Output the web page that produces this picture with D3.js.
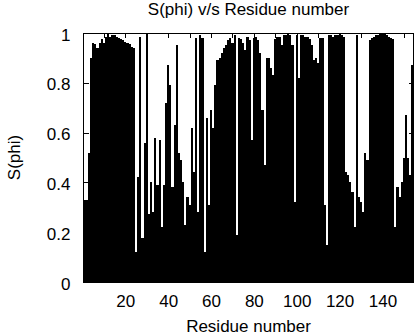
<!DOCTYPE html>
<html>
<head>
<meta charset="utf-8">
<script src="https://cdn.jsdelivr.net/npm/d3@7"></script>
<style>
  html, body { margin: 0; padding: 0; background: #fff; }
  svg { display: block; }
  text { font-family: "Liberation Sans", Arial, Helvetica, sans-serif; fill: #000; }
</style>
</head>
<body>
<svg id="chart" width="416" height="336"></svg>
<script>
// S(phi) order parameter for each residue
const sphi = [
  0.33, 0.33, 0.52, 0.90, 0.96, 0.955, 0.94, 0.96, 0.975, 0.96,
  0.985, 0.995, 0.985, 0.99, 0.99, 0.985, 0.98, 0.975, 0.97, 0.965,
  0.96, 0.955, 0.945, 0.94, 0.12, 0.42, 0.985, 0.175, 0.56, 0.995,
  0.275, 0.40, 0.28, 0.58, 0.39, 0.57, 0.22, 0.39, 0.72, 0.87,
  0.79, 0.38, 0.63, 0.95, 0.52, 0.49, 0.40, 0.23, 0.34, 0.31,
  0.62, 0.44, 0.98, 0.28, 0.99, 0.98, 0.12, 0.66, 0.31, 0.69,
  0.62, 0.79, 0.89, 0.90, 0.92, 0.94, 0.95, 0.97, 0.98, 0.96,
  0.99, 0.19, 0.98, 0.975, 0.96, 0.93, 0.985, 0.97, 0.57, 0.98,
  0.985, 0.97, 0.92, 0.69, 0.47, 0.90, 0.90, 0.86, 0.83, 0.975,
  0.985, 0.985, 0.95, 0.99, 0.99, 0.995, 0.99, 0.95, 0.32, 0.99,
  0.82, 0.99, 0.99, 0.985, 0.985, 0.975, 0.95, 0.89, 0.90, 0.88,
  0.98, 0.98, 0.31, 0.15, 0.99, 0.99, 0.985, 0.99, 0.99, 0.995,
  0.99, 0.985, 0.44, 0.43, 0.40, 0.36, 0.22, 0.99, 0.34, 0.32,
  0.28, 0.52, 0.49, 0.97, 0.98, 0.985, 0.99, 0.99, 0.995, 1.0,
  0.995, 0.99, 0.985, 0.98, 0.975, 0.22, 0.38, 0.34, 0.40, 0.50,
  0.67, 0.50, 0.43, 0.87
];
const residues = sphi.map((_, i) => i + 1);

const xTickLabels = [20, 40, 60, 80, 100, 120, 140];
const xMinorTicks = [10, 30, 50, 70, 90, 110, 130, 150];
const yTickLabels = [0, 0.2, 0.4, 0.6, 0.8, 1];

const titleText = "S(phi) v/s Residue number";
const xLabelText = "Residue number";
const yLabelText = "S(phi)";

(function draw() {
  const svg = d3.select("#chart");
  const plotLeft = 83.5, plotRight = 413.5, plotTop = 33, plotBottom = 282;
  const fontSize = 17;

  const x = d3.scaleLinear().domain([0.5, residues.length + 0.5]).range([plotLeft, plotRight]);
  const y = d3.scaleLinear().domain([0, 1]).range([plotBottom, plotTop]);

  // bars
  svg.append("g")
    .attr("shape-rendering", "crispEdges")
    .selectAll("rect")
    .data(residues)
    .join("rect")
    .attr("x", r => x(r - 0.5))
    .attr("width", r => x(r + 0.5) - x(r - 0.5))
    .attr("y", (r, i) => y(sphi[i]))
    .attr("height", (r, i) => y(0) - y(sphi[i]))
    .attr("fill", "#000");

  // axes with inward ticks
  const styleAxis = g => {
    g.select(".domain").remove();
    g.selectAll("line").attr("stroke", "#000").attr("shape-rendering", "crispEdges");
    g.selectAll("text").style("font-size", fontSize + "px").attr("font-family", null);
  };

  svg.append("g")
    .attr("transform", `translate(${plotLeft},0)`)
    .call(d3.axisLeft(y).tickValues(yTickLabels).tickFormat(d3.format("")).tickSizeInner(-5).tickSizeOuter(0).tickPadding(13))
    .call(styleAxis)
    .call(g => g.selectAll("text").attr("dy", "0.42em"));

  svg.append("g")
    .attr("transform", `translate(${plotRight},0)`)
    .call(d3.axisRight(y).tickValues(yTickLabels).tickFormat("").tickSizeInner(-5).tickSizeOuter(0))
    .call(styleAxis);

  svg.append("g")
    .attr("transform", `translate(0,${plotBottom})`)
    .call(d3.axisBottom(x).tickValues(xTickLabels).tickFormat(d3.format("")).tickSizeInner(-5).tickSizeOuter(0).tickPadding(13))
    .call(styleAxis);

  svg.append("g")
    .attr("transform", `translate(0,${plotTop})`)
    .call(d3.axisTop(x).tickValues(xTickLabels.concat(xMinorTicks)).tickFormat("").tickSizeInner(-5).tickSizeOuter(0))
    .call(styleAxis);

  // frame
  svg.append("rect")
    .attr("x", plotLeft).attr("y", plotTop + 0.5)
    .attr("width", plotRight - plotLeft).attr("height", plotBottom - plotTop)
    .attr("fill", "none").attr("stroke", "#000").attr("stroke-width", 1);

  // titles
  svg.append("text")
    .attr("x", (plotLeft + plotRight) / 2).attr("y", 15)
    .attr("text-anchor", "middle").style("font-size", fontSize + "px")
    .text(titleText);

  svg.append("text")
    .attr("x", (plotLeft + plotRight) / 2).attr("y", 332)
    .attr("text-anchor", "middle").style("font-size", fontSize + "px")
    .text(xLabelText);

  svg.append("text")
    .attr("transform", `translate(20,${(plotTop + plotBottom) / 2}) rotate(-90)`)
    .attr("text-anchor", "middle").style("font-size", fontSize + "px")
    .text(yLabelText);
})();
</script>
</body>
</html>
